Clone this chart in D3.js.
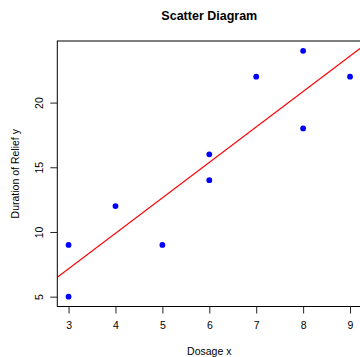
<!DOCTYPE html>
<html>
<head>
<meta charset="utf-8">
<script src="https://cdn.jsdelivr.net/npm/d3@7"></script>
<style>
  body { margin: 0; background: #fff; }
  svg { display: block; font-family: "Liberation Sans", Arial, sans-serif; }
</style>
</head>
<body>
<div id="chart"></div>
<script>
// dosage vs duration of relief
var dosage = [3, 3, 4, 5, 6, 6, 7, 8, 8, 9];
var relief = [9, 5, 12, 9, 16, 14, 22, 24, 18, 22];
var xTicks = [3, 4, 5, 6, 7, 8, 9];
var yTicks = [5, 10, 15, 20];

var width = 360, height = 357;
var plot = {left: 57.3, top: 41, right: 361.3, bottom: 306.5};

var svg = d3.select('#chart').append('svg')
  .attr('width', width)
  .attr('height', height);

// R style 4% padding on data range
var xExt = d3.extent(dosage), yExt = d3.extent(relief);
var xPad = (xExt[1] - xExt[0]) * 0.04, yPad = (yExt[1] - yExt[0]) * 0.04;

var x = d3.scaleLinear().domain([xExt[0] - xPad, xExt[1] + xPad]).range([plot.left, plot.right]);
var y = d3.scaleLinear().domain([yExt[0] - yPad, yExt[1] + yPad]).range([plot.bottom, plot.top]);

// least squares fit
var mx = d3.mean(dosage), my = d3.mean(relief);
var sxy = d3.sum(dosage, function(d, i) { return (d - mx) * (relief[i] - my); });
var sxx = d3.sum(dosage, function(d) { return (d - mx) * (d - mx); });
var slope = sxy / sxx, intercept = my - slope * mx;

svg.append('defs').append('clipPath').attr('id', 'clip')
  .append('rect')
  .attr('x', plot.left).attr('y', plot.top)
  .attr('width', plot.right - plot.left).attr('height', plot.bottom - plot.top);

// points
svg.append('g').selectAll('circle')
  .data(dosage)
  .enter().append('circle')
  .attr('cx', function(d) { return x(d); })
  .attr('cy', function(d, i) { return y(relief[i]); })
  .attr('r', 2.9)
  .style('fill', '#0000ff');

// regression line
var xd = x.domain();
svg.append('line')
  .attr('clip-path', 'url(#clip)')
  .attr('x1', x(xd[0])).attr('y1', y(intercept + slope * xd[0]))
  .attr('x2', x(xd[1])).attr('y2', y(intercept + slope * xd[1]))
  .style('stroke', '#ff0000')
  .style('stroke-width', 1.2);

// box
svg.append('rect')
  .attr('x', plot.left).attr('y', plot.top)
  .attr('width', plot.right - plot.left).attr('height', plot.bottom - plot.top)
  .style('fill', 'none')
  .style('stroke', '#000')
  .style('stroke-width', 1);

// axes
var xAxis = svg.append('g')
  .attr('transform', 'translate(0,' + plot.bottom + ')')
  .call(d3.axisBottom(x).tickValues(xTicks).tickSize(7).tickPadding(8).tickFormat(d3.format('d')));

var yAxis = svg.append('g')
  .attr('transform', 'translate(' + plot.left + ',0)')
  .call(d3.axisLeft(y).tickValues(yTicks).tickSize(7).tickFormat(d3.format('d')));

xAxis.select('.domain').remove();
yAxis.select('.domain').remove();
[xAxis, yAxis].forEach(function(a) {
  a.selectAll('line').style('stroke', '#222');
  a.selectAll('text')
    .style('font-family', '"Liberation Sans", Arial, sans-serif')
    .style('font-size', '10.5px')
    .style('fill', '#000');
});

yAxis.selectAll('.tick text')
  .attr('x', null).attr('dy', null)
  .attr('text-anchor', 'middle')
  .attr('transform', 'translate(-14.6,0) rotate(-90)');

// titles
svg.append('text')
  .attr('x', (plot.left + plot.right) / 2)
  .attr('y', 19.5)
  .attr('text-anchor', 'middle')
  .style('font-size', '12.5px')
  .style('font-weight', 'bold')
  .text('Scatter Diagram');

svg.append('text')
  .attr('x', (plot.left + plot.right) / 2)
  .attr('y', 355)
  .attr('text-anchor', 'middle')
  .style('font-size', '10.5px')
  .text('Dosage x');

svg.append('text')
  .attr('transform', 'translate(19,' + ((plot.top + plot.bottom) / 2) + ') rotate(-90)')
  .attr('text-anchor', 'middle')
  .style('font-size', '10.5px')
  .text('Duration of Relief y');
</script>
</body>
</html>
